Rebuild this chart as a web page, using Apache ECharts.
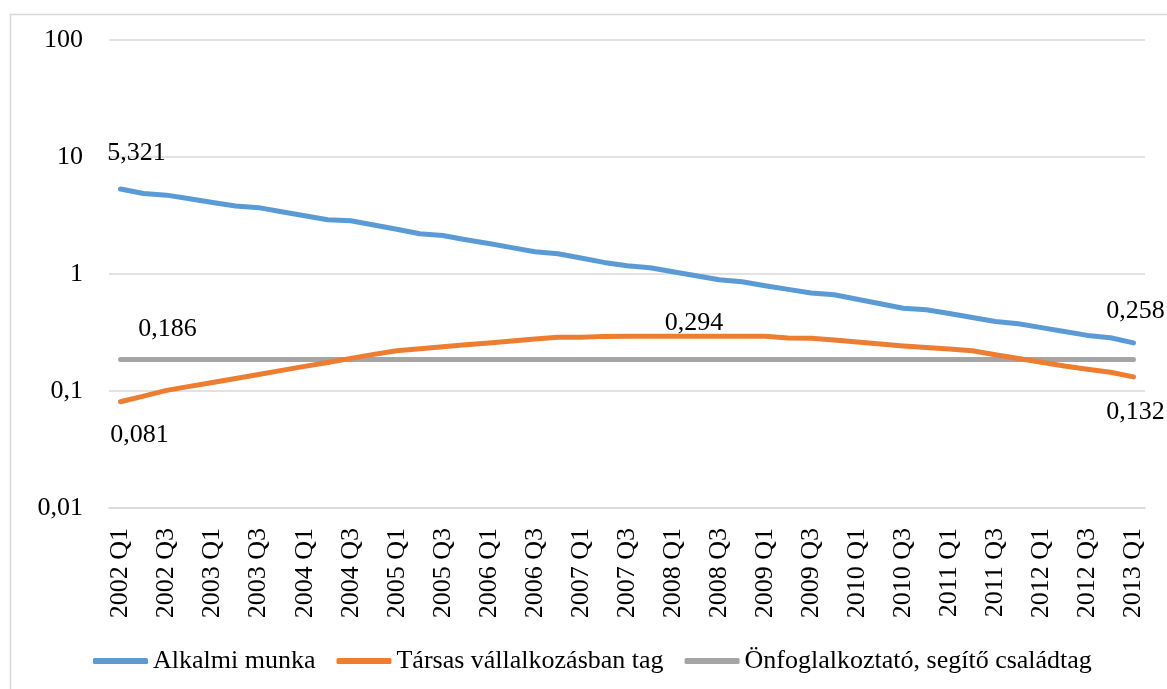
<!DOCTYPE html>
<html>
<head>
<meta charset="utf-8">
<script src="https://cdn.jsdelivr.net/npm/echarts@6/dist/echarts.min.js"></script>
<style>
html,body{margin:0;padding:0;background:#fff;}
#chart{width:1167px;height:689px;}
</style>
</head>
<body>
<div id="chart"></div>
<script>
// ---- data ----
const categories = [];
const years = [2002,2003,2004,2005,2006,2007,2008,2009,2010,2011,2012,2013];
years.forEach(y => { ['Q1','Q2','Q3','Q4'].forEach(q => { if (!(y === 2013 && q !== 'Q1')) categories.push(y + ' ' + q); }); });

const seriesNames = ['Alkalmi munka', 'Társas vállalkozásban tag', 'Önfoglalkoztató, segítő családtag'];

const alkalmi = [5.321, 4.88, 4.72, 4.39, 4.09, 3.81, 3.69, 3.41, 3.15, 2.91,
  2.85, 2.62, 2.41, 2.21, 2.13, 1.96, 1.82, 1.68, 1.55, 1.49,
  1.37, 1.256, 1.177, 1.132, 1.046, 0.967, 0.894, 0.859, 0.794, 0.739,
  0.688, 0.665, 0.609, 0.557, 0.510, 0.495, 0.459, 0.425, 0.393, 0.376,
  0.348, 0.3225, 0.2987, 0.2855, 0.258];

const tarsas = [0.081, 0.0903, 0.1012, 0.1095, 0.1184, 0.1281, 0.1386, 0.150, 0.1623, 0.1755,
  0.190, 0.2055, 0.221, 0.2299, 0.2391, 0.2487, 0.2577, 0.2676, 0.2782, 0.2884,
  0.288, 0.293, 0.294, 0.294, 0.294, 0.294, 0.294, 0.294, 0.294, 0.2838,
  0.283, 0.2728, 0.2623, 0.2522, 0.2425, 0.2354, 0.2286, 0.221, 0.2043, 0.1896,
  0.1762, 0.1636, 0.1536, 0.1445, 0.132];

const onfogl = [0.186, 0.186, 0.186, 0.186, 0.186, 0.186, 0.186, 0.186, 0.186, 0.186,
  0.186, 0.186, 0.186, 0.186, 0.186, 0.186, 0.186, 0.186, 0.186, 0.186,
  0.186, 0.186, 0.186, 0.186, 0.186, 0.186, 0.186, 0.186, 0.186, 0.186,
  0.186, 0.186, 0.186, 0.186, 0.186, 0.186, 0.186, 0.186, 0.186, 0.186,
  0.186, 0.186, 0.186, 0.186, 0.186];

const yTicks = [0.01, 0.1, 1, 10, 100];

// ---- styling ----
const FONT = '"Liberation Serif", "Times New Roman", serif';
const FS = 26;
const colors = ['#5B9BD5', '#ED7D31', '#A5A5A5'];

function fmt(v) { return String(Number(v.toPrecision(6))).replace('.', ','); }

// which points carry a value label, and where (style only)
const labelSpec = [
  { 0: [16, -36], 44: [2, -32] },
  { 0: [19, 33], 23: [44, -13], 44: [2, 35] },
  { 0: [47, -30] }
];

function build(values, si) {
  return values.map((v, i) => {
    const spec = labelSpec[si][i];
    if (!spec) return v;
    return {
      value: v,
      label: {
        show: true, position: 'inside', offset: spec,
        formatter: p => fmt(p.value),
        fontFamily: FONT, fontSize: FS, color: '#000'
      }
    };
  });
}

const allValues = [alkalmi, tarsas, onfogl];

const chart = echarts.init(document.getElementById('chart'), null, { renderer: 'canvas' });
chart.setOption({
  animation: false,
  backgroundColor: '#fff',
  graphic: [{
    type: 'rect', left: 8, top: 12, silent: true,
    shape: { x: 0, y: 0, width: 1200, height: 700 },
    style: { fill: 'none', stroke: '#d9d9d9', lineWidth: 1.5 }
  }],
  grid: { left: 109, right: 22, top: 40, bottom: 181, containLabel: false },
  legend: {
    left: 88, top: 643,
    icon: 'roundRect', itemWidth: 55, itemHeight: 6, itemGap: 21,
    textStyle: { fontFamily: FONT, fontSize: FS, color: '#000' },
    data: seriesNames
  },
  xAxis: {
    type: 'category', data: categories, boundaryGap: true,
    axisLine: { show: true, lineStyle: { color: '#d9d9d9', width: 1.5 } },
    axisTick: { show: false },
    axisLabel: { interval: 1, rotate: 90, margin: 20, fontFamily: FONT, fontSize: FS, color: '#000' }
  },
  yAxis: {
    type: 'log', logBase: 10, min: yTicks[0], max: yTicks[yTicks.length - 1],
    axisLine: { show: false }, axisTick: { show: false },
    splitLine: { show: true, lineStyle: { color: '#d9d9d9', width: 1.5 } },
    axisLabel: { margin: 26, fontFamily: FONT, fontSize: FS, color: '#000', formatter: v => fmt(v) }
  },
  series: seriesNames.map((name, si) => ({
    name, type: 'line', data: build(allValues[si], si),
    symbol: 'circle', symbolSize: 1, showSymbol: true,
    itemStyle: { color: colors[si] },
    lineStyle: { color: colors[si], width: 5, cap: 'round', join: 'round' },
    z: 5 - si
  }))
});
</script>
</body>
</html>
